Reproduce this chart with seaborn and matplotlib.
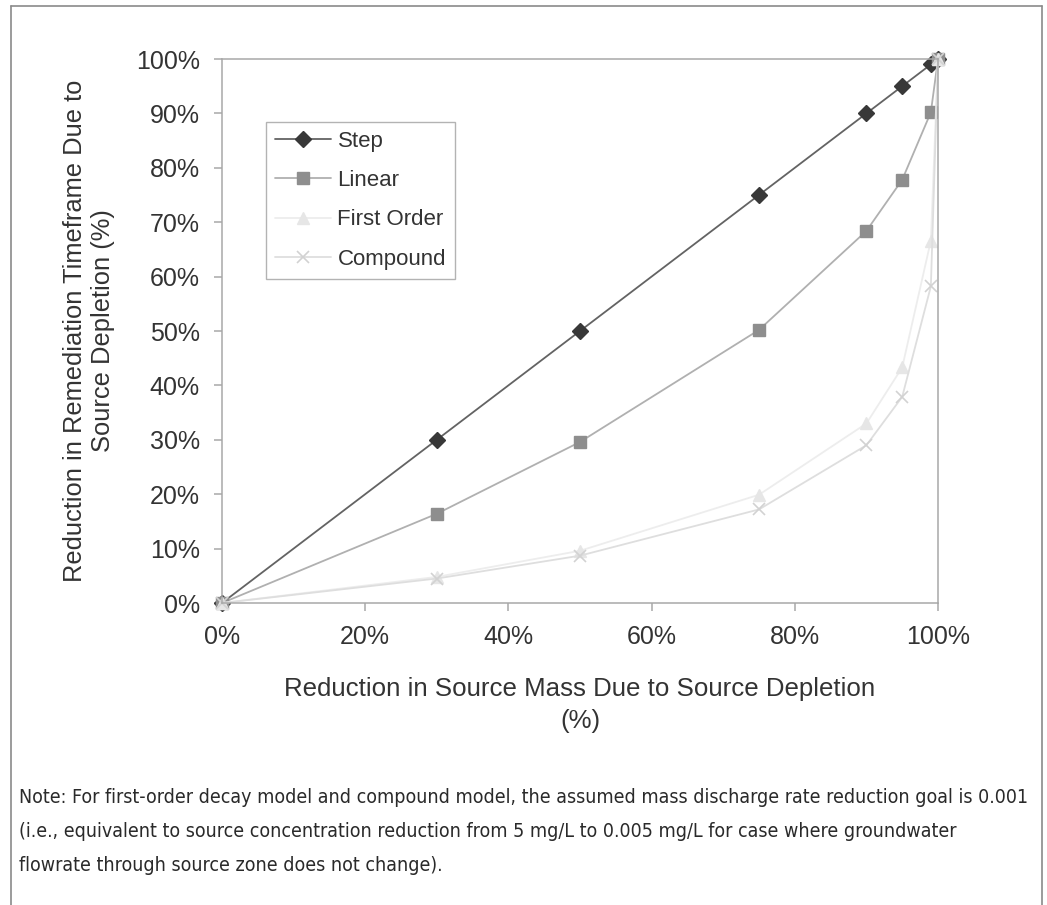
import matplotlib
matplotlib.use("Agg")
import matplotlib.pyplot as plt
from matplotlib.lines import Line2D
from matplotlib.ticker import PercentFormatter, MultipleLocator
import pandas as pd
import seaborn as sns

# Source mass reduction (%) at which each model was evaluated
mass_reduction = [0, 30, 50, 75, 90, 95, 99, 100]

# Reduction in remediation timeframe (%) for each depletion model
step = [0, 30, 50, 75, 90, 95, 99, 100]
linear = [0, 16.4, 29.6, 50.2, 68.4, 77.8, 90.2, 100]
first_order = [0, 4.8, 9.6, 19.9, 33.0, 43.3, 66.6, 100]
compound = [0, 4.5, 8.7, 17.2, 29.0, 37.9, 58.2, 100]

series_names = ["Step", "Linear", "First Order", "Compound"]
series_values = [step, linear, first_order, compound]

note_lines = [
    "Note: For first-order decay model and compound model, the assumed mass discharge rate reduction goal is 0.001",
    "(i.e., equivalent to source concentration reduction from 5 mg/L to 0.005 mg/L for case where groundwater",
    "flowrate through source zone does not change).",
]

styles = {
    "Step": dict(marker="D", ms=8.5, line="#636363", face="#383838", edge="#383838", mew=1.0),
    "Linear": dict(marker="s", ms=8, line="#b0b0b0", face="#8e8e8e", edge="#8e8e8e", mew=1.0),
    "First Order": dict(marker="^", ms=9, line="#ededed", face="#e6e6e6", edge="#e6e6e6", mew=1.0),
    "Compound": dict(marker="x", ms=9, line="#dedede", face="#d2d2d2", edge="#d2d2d2", mew=1.2),
}

df = pd.DataFrame(
    {
        "mass": mass_reduction * len(series_names),
        "timeframe": [v for vals in series_values for v in vals],
        "model": [n for n in series_names for _ in mass_reduction],
    }
)

sns.set_style("white")
plt.rcParams["font.family"] = ["Liberation Sans", "DejaVu Sans"]

fig = plt.figure(figsize=(10.47, 9.05), dpi=100)
ax = fig.add_axes([0.2120, 0.3337, 0.6839, 0.6011])

for name in series_names:
    st = styles[name]
    sns.lineplot(
        data=df[df["model"] == name],
        x="mass",
        y="timeframe",
        ax=ax,
        color=st["line"],
        linewidth=1.3,
        marker=st["marker"],
        markersize=st["ms"],
        markerfacecolor=st["face"],
        markeredgecolor=st["edge"],
        markeredgewidth=st["mew"],
        label=name,
        clip_on=False,
        errorbar=None,
    )

ax.set_xlim(0, 100)
ax.set_ylim(0, 100)
ax.xaxis.set_major_locator(MultipleLocator(20))
ax.yaxis.set_major_locator(MultipleLocator(10))
ax.xaxis.set_major_formatter(PercentFormatter(decimals=0))
ax.yaxis.set_major_formatter(PercentFormatter(decimals=0))

spine_color = "#a8a8a8"
for sp in ax.spines.values():
    sp.set_color(spine_color)
    sp.set_linewidth(1.1)
ax.tick_params(
    axis="both", which="major", direction="out", length=6, width=1.1,
    color=spine_color, labelsize=18, labelcolor="#333333", pad=10,
    bottom=True, left=True,
)

ax.set_xlabel(
    "Reduction in Source Mass Due to Source Depletion\n(%)",
    fontsize=18.6, color="#333333", labelpad=20, linespacing=1.4,
)
ax.set_ylabel(
    "Reduction in Remediation Timeframe Due to\nSource Depletion (%)",
    fontsize=18.4, color="#333333", labelpad=15, linespacing=1.2,
)

leg = ax.legend(
    loc="upper left",
    bbox_to_anchor=(0.062, 0.884),
    fontsize=16,
    frameon=True,
    fancybox=False,
    edgecolor="#a0a0a0",
    handlelength=2.5,
    handletextpad=0.3,
    labelspacing=0.82,
    borderpad=0.4,
    borderaxespad=0,
)
leg.get_frame().set_linewidth(1.0)
for txt in leg.get_texts():
    txt.set_color("#333333")

# Note beneath the chart
for i, line in enumerate(note_lines):
    fig.text(
        19 / 1047, 1 - (797 + 34 * i) / 905, line,
        fontsize=14, fontstretch="condensed", color="#2a2a2a",
        va="center", ha="left", family=["DejaVu Sans"],
    )

# Frame around the figure (open at the bottom)
frame_kw = dict(color="#8a8a8a", linewidth=1.2, transform=fig.transFigure)
fig.add_artist(Line2D([10.5 / 1047, 10.5 / 1047], [0, 1 - 6.5 / 905], **frame_kw))
fig.add_artist(Line2D([10.5 / 1047, 1041.5 / 1047], [1 - 6.5 / 905, 1 - 6.5 / 905], **frame_kw))
fig.add_artist(Line2D([1041.5 / 1047, 1041.5 / 1047], [0, 1 - 6.5 / 905], **frame_kw))

fig.savefig("out.png", dpi=100)
